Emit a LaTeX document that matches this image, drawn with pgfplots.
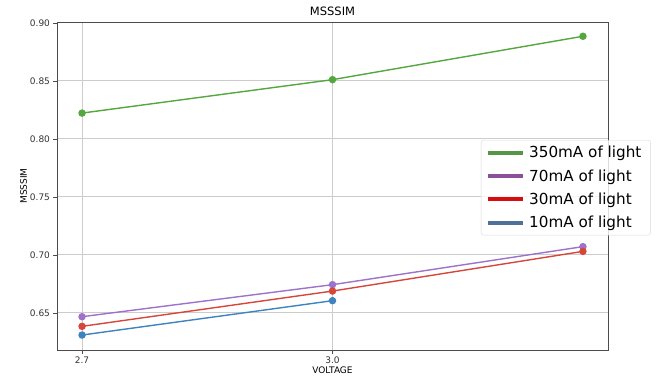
\documentclass[border=0pt]{standalone}
\usepackage{pgfplots}
\pgfplotsset{compat=1.18}
\usepackage{fontspec}
\setmainfont{DejaVu Sans}
\definecolor{cgreen}{RGB}{84,166,62}
\definecolor{cpurple}{RGB}{157,114,200}
\definecolor{cred}{RGB}{214,70,58}
\definecolor{cblue}{RGB}{63,130,192}
\definecolor{lgreen}{RGB}{84,150,70}
\definecolor{lpurple}{RGB}{140,79,154}
\definecolor{lred}{RGB}{212,14,14}
\definecolor{lblue}{RGB}{77,113,153}
\begin{document}
\begin{tikzpicture}
\begin{axis}[
  at={(0,0)}, anchor=south west,
  scale only axis, width=551pt, height=328pt,
  xmin=2.67, xmax=3.33, ymin=0.6180, ymax=0.9007,
  xtick={2.7,3.0}, xticklabels={2.7,3.0},
  ytick={0.65,0.70,0.75,0.80,0.85,0.90},
  xtick pos=bottom, ytick pos=left,
  yticklabel style={/pgf/number format/.cd,fixed,fixed zerofill,precision=2},
  /pgf/number format/assume math mode=true,
  ticklabel style={font=\fontsize{9}{10}\selectfont, text=black!80},
  tick align=outside, major tick length=3.5pt,
  tick style={black!70, line width=0.6pt},
  axis line style={black!70, line width=0.8pt},
  grid=major, major grid style={black!20, line width=0.8pt},
  title={MSSSIM}, title style={font=\fontsize{11.5}{12}\selectfont, yshift=-3pt},
  xlabel={VOLTAGE}, xlabel style={font=\fontsize{9}{10}\selectfont, yshift=4pt},
  ylabel={MSSSIM}, ylabel style={font=\fontsize{9}{10}\selectfont, yshift=-4pt},
  legend style={at={(0.7695,0.640)}, anchor=north west, font=\fontsize{15.2}{17}\selectfont,
    draw=black!15, rounded corners=2pt, fill=white, fill opacity=0.8, text opacity=1,
    row sep=6.2pt, inner xsep=5pt, inner ysep=4pt,
    nodes={inner xsep=4pt}},
  legend cell align=left,
  legend image code/.code={\draw[line width=4pt] (0cm,0cm) -- (35pt,0cm);},
]
\addplot[cgreen, line width=1.4pt, mark=*, mark size=3pt, forget plot] coordinates {(2.7,0.8222) (3.0,0.8510) (3.3,0.8884)};
\addplot[cpurple, line width=1.4pt, mark=*, mark size=3pt, forget plot] coordinates {(2.7,0.6467) (3.0,0.6743) (3.3,0.7071)};
\addplot[cred, line width=1.4pt, mark=*, mark size=3pt, forget plot] coordinates {(2.7,0.6384) (3.0,0.6688) (3.3,0.7030)};
\addplot[cblue, line width=1.4pt, mark=*, mark size=3pt, forget plot] coordinates {(2.7,0.6309) (3.0,0.6605)};
\addlegendimage{lgreen}\addlegendentry{350mA of light}
\addlegendimage{lpurple}\addlegendentry{70mA of light}
\addlegendimage{lred}\addlegendentry{30mA of light}
\addlegendimage{lblue}\addlegendentry{10mA of light}
\end{axis}
\useasboundingbox (-57pt,-33pt) rectangle (607pt,350pt);
\end{tikzpicture}
\end{document}
